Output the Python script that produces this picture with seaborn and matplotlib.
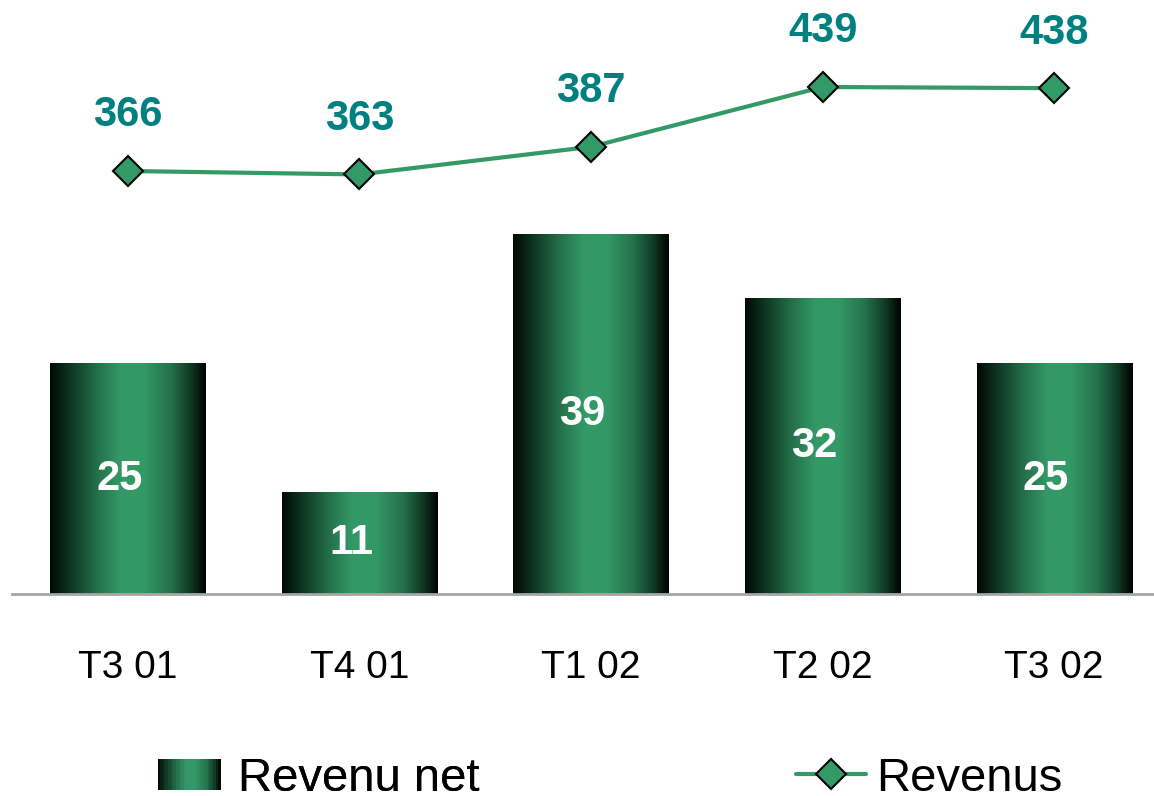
import numpy as np
import pandas as pd
import seaborn as sns
import matplotlib.pyplot as plt
from matplotlib.colors import LinearSegmentedColormap
from matplotlib.legend_handler import HandlerBase
from matplotlib.patches import Rectangle
from matplotlib.lines import Line2D

# data
periodes = ["T3 01", "T4 01", "T1 02", "T2 02", "T3 02"]
revenu_net = [25, 11, 39, 32, 25]
revenus = [366, 363, 387, 439, 438]

df = pd.DataFrame({"periode": periodes, "revenu_net": revenu_net, "revenus": revenus})

sns.set_theme(style="white")
plt.rcParams["font.family"] = ["Liberation Sans", "DejaVu Sans"]

vert = "#339966"
teal = "#008080"
grad = LinearSegmentedColormap.from_list("barre", [
    (0.0, "#000805"), (0.12, "#0d3320"), (0.3, "#24704a"),
    (0.45, "#339966"), (0.6, "#339966"), (0.78, "#24704a"),
    (0.9, "#103b26"), (1.0, "#000000")])

fig = plt.figure(figsize=(11.54, 7.96), dpi=100)
ax = fig.add_axes([12 / 1154, 202 / 796, 1158 / 1154, 594 / 796])

sns.barplot(data=df, x="periode", y="revenu_net", width=0.67, color=vert, ax=ax,
            saturation=1)

# gradient fill for each bar
g = np.linspace(0, 1, 256).reshape(1, -1)
for p in ax.patches:
    x0, y0 = p.get_x(), p.get_y()
    w, h = p.get_width(), p.get_height()
    im = ax.imshow(g, cmap=grad, aspect="auto", extent=[x0, x0 + w, y0, y0 + h],
                   zorder=p.get_zorder() + 0.1, interpolation="bicubic")
    im.set_clip_path(p)
    p.set_alpha(0)
    ax.annotate(f"{int(h)}", (x0 + w / 2, y0 + h / 2), xytext=(-6, 0),
                textcoords="offset points", ha="center", va="center",
                color="white", fontsize=30, fontweight="bold", zorder=5)
ax.set_xlim(-0.5, 4.5)
ax.set_ylim(0, 64.3)

for s in ["top", "right", "left"]:
    ax.spines[s].set_visible(False)
ax.spines["bottom"].set_color("#a6a6a6")
ax.spines["bottom"].set_linewidth(2)
ax.set_yticks([])
ax.set_xlabel("")
ax.set_ylabel("")
ax.tick_params(axis="x", length=0, pad=40, labelsize=28, labelcolor="black")

ax2 = ax.twinx()
sns.lineplot(x=np.arange(len(periodes)), y=revenus, ax=ax2, color=vert, linewidth=3,
             marker="D", markersize=15, markerfacecolor=vert, markeredgecolor="black",
             markeredgewidth=1.5, zorder=6)
ax2.set_ylim(-1.6, 514.6)
ax2.set_xlim(-0.5, 4.5)
ax2.axis("off")
for i, v in enumerate(revenus):
    ax2.annotate(f"{v}", (i, v), xytext=(0, 40), textcoords="offset points",
                 ha="center", va="center", color=teal, fontsize=30, fontweight="bold")


class HandlerGradient(HandlerBase):
    def create_artists(self, legend, orig_handle, xdescent, ydescent, width, height,
                       fontsize, trans):
        n = 24
        arts = []
        for k in range(n):
            r = Rectangle((-xdescent + width * k / n, -ydescent),
                          width / n + 0.3, height, facecolor=grad((k + 0.5) / n),
                          edgecolor="none", transform=trans)
            arts.append(r)
        return arts


h_bar = Rectangle((0, 0), 1, 1, facecolor=vert)
h_line = Line2D([], [], color=vert, linewidth=3, marker="D", markersize=15,
                markerfacecolor=vert, markeredgecolor="black", markeredgewidth=1.5)

leg1 = fig.legend([h_bar], ["Revenu net"], loc="center left",
                  bbox_to_anchor=(115 / 1154, 1 - 779 / 796), frameon=False,
                  fontsize=34, handlelength=1.34, handleheight=0.62, handletextpad=0.36,
                  labelcolor="black", handler_map={Rectangle: HandlerGradient()})
leg2 = fig.legend([h_line], ["Revenus"], loc="center left",
                  bbox_to_anchor=(753 / 1154, 1 - 779 / 796), frameon=False,
                  fontsize=34, handlelength=1.5, handletextpad=0.21, labelcolor="black")
fig.add_artist(leg1)

fig.savefig("out.png", dpi=100)
